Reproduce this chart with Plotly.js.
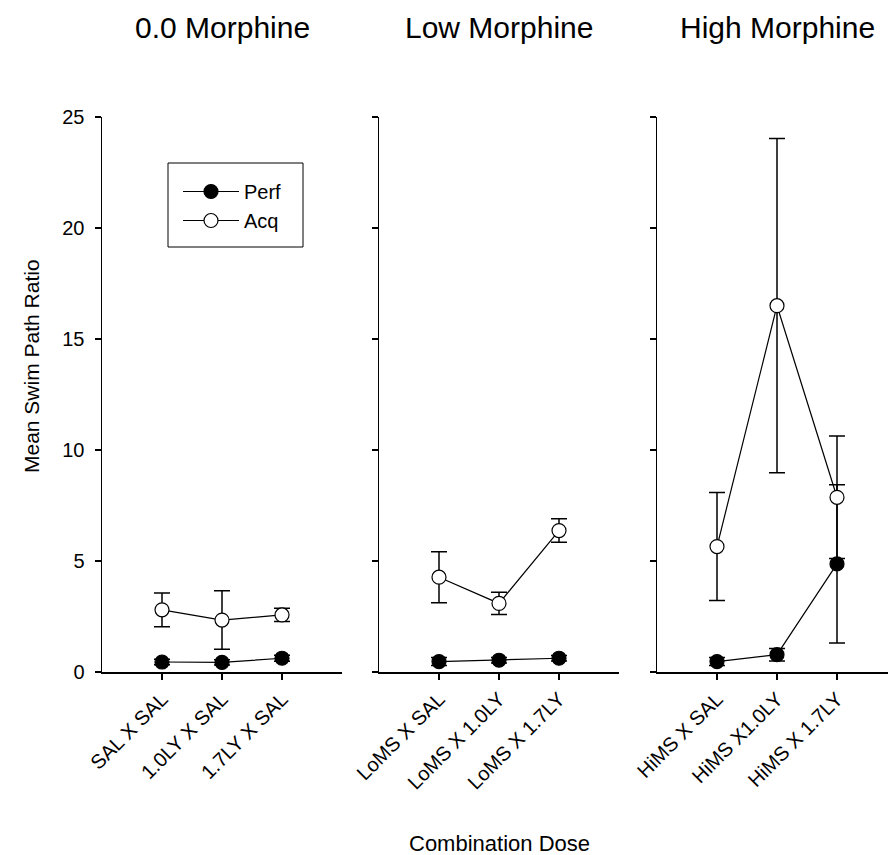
<!DOCTYPE html>
<html><head><meta charset="utf-8">
<script src="https://cdn.plot.ly/plotly-3.0.1.min.js"></script>
<style>html,body{margin:0;padding:0;background:#fff}</style>
</head><body><div id="chart" style="width:888px;height:855px"></div>
<script>
// ---- data ----
const panelTitles = ['0.0 Morphine', 'Low Morphine', 'High Morphine'];
const cats0 = ['SAL X SAL', '1.0LY X SAL', '1.7LY X SAL'];
const catsLow = ['LoMS X SAL', 'LoMS X 1.0LY', 'LoMS X 1.7LY'];
const catsHigh = ['HiMS X SAL', 'HiMS X1.0LY', 'HiMS X 1.7LY'];
const perf0 = [0.45, 0.43, 0.62];
const perf0Err = [0.12, 0.12, 0.14];
const acq0 = [2.80, 2.34, 2.57];
const acq0Err = [0.76, 1.32, 0.30];
const perfLow = [0.47, 0.53, 0.62];
const perfLowErr = [0.18, 0.12, 0.12];
const acqLow = [4.27, 3.09, 6.37];
const acqLowErr = [1.15, 0.50, 0.53];
const perfHigh = [0.47, 0.78, 4.87];
const perfHighErr = [0.18, 0.28, 3.56];
const acqHigh = [5.65, 16.50, 7.87];
const acqHighErr = [2.43, 7.53, 2.76];
const seriesNames = ['Perf', 'Acq'];
const yTicks = [0, 5, 10, 15, 20, 25];

const W = 888, H = 855;
const FONT = 'Liberation Sans, Arial, Helvetica, sans-serif';
const INK = '#000';

function px(x) { return x / W; }
function py(y) { return (H - y) / H; }

const panels = [
  {cats: cats0, perf: perf0, perfErr: perf0Err, acq: acq0, acqErr: acq0Err},
  {cats: catsLow, perf: perfLow, perfErr: perfLowErr, acq: acqLow, acqErr: acqLowErr},
  {cats: catsHigh, perf: perfHigh, perfErr: perfHighErr, acq: acqHigh, acqErr: acqHighErr}
];

const traces = [];
panels.forEach((p, i) => {
  const xa = i === 0 ? 'x' : 'x' + (i + 1);
  const ya = i === 0 ? 'y' : 'y' + (i + 1);
  const errStyle = {type: 'data', visible: true, color: INK, thickness: 1.5, width: 8};
  traces.push({
    type: 'scatter', mode: 'lines+markers', name: seriesNames[0],
    x: p.cats, y: p.perf, xaxis: xa, yaxis: ya,
    error_y: Object.assign({array: p.perfErr}, errStyle),
    line: {color: INK, width: 1.2},
    marker: {symbol: 'circle', size: 14, color: INK, line: {color: INK, width: 1.2}},
    showlegend: i === 0, legendgroup: 'perf', cliponaxis: false
  });
  traces.push({
    type: 'scatter', mode: 'lines+markers', name: seriesNames[1],
    x: p.cats, y: p.acq, xaxis: xa, yaxis: ya,
    error_y: Object.assign({array: p.acqErr}, errStyle),
    line: {color: INK, width: 1.2},
    marker: {symbol: 'circle', size: 14, color: '#fff', line: {color: INK, width: 1.2}},
    showlegend: i === 0, legendgroup: 'acq', cliponaxis: false
  });
});

const xDomains = [[px(102), px(342)], [px(379), px(619)], [px(657), 1]];
const xRanges = [[-1, 3], [-1, 3], [-1, 2.85]];
const yDomain = [py(672), py(117)];

const layout = {
  width: W, height: H,
  margin: {l: 0, r: 0, t: 0, b: 0},
  paper_bgcolor: '#fff', plot_bgcolor: '#fff',
  font: {family: FONT, color: INK, size: 16},
  showlegend: true,
  legend: {
    x: px(178), y: py(172), xanchor: 'left', yanchor: 'top',
    bgcolor: 'rgba(0,0,0,0)', borderwidth: 0,
    font: {family: FONT, size: 20, color: INK},
    tracegroupgap: 0, itemwidth: 56
  },
  shapes: [{
    type: 'rect', xref: 'paper', yref: 'paper',
    x0: px(168), x1: px(303), y0: py(247), y1: py(163),
    line: {color: INK, width: 1}, fillcolor: 'rgba(0,0,0,0)'
  }],
  annotations: [],
};

panels.forEach((p, i) => {
  const suffix = i === 0 ? '' : String(i + 1);
  layout['xaxis' + suffix] = {
    domain: xDomains[i], anchor: 'y' + suffix, type: 'category',
    range: xRanges[i], showgrid: false, zeroline: false,
    showline: true, linecolor: INK, linewidth: 1.5,
    ticks: 'outside', ticklen: 6, tickwidth: 1.5, tickcolor: INK,
    tickangle: -45, tickfont: {family: FONT, size: 20, color: INK},
    fixedrange: true
  };
  layout['yaxis' + suffix] = {
    domain: yDomain, anchor: 'x' + suffix, range: [0, 25],
    tickvals: yTicks, ticktext: yTicks.map(String),
    showticklabels: i === 0,
    showgrid: false, zeroline: false,
    showline: true, linecolor: INK, linewidth: 1.5,
    ticks: 'outside', ticklen: 6, tickwidth: 1.5, tickcolor: INK,
    tickfont: {family: FONT, size: 20, color: INK},
    ticklabelstandoff: 6,
    fixedrange: true
  };
  layout.annotations.push({
    xref: 'paper', yref: 'paper',
    x: (xDomains[i][0] + (i === 2 ? px(897) : xDomains[i][1])) / 2,
    y: py(28), xanchor: 'center', yanchor: 'middle',
    text: panelTitles[i], showarrow: false,
    font: {family: FONT, size: 30, color: INK}
  });
});

layout.annotations.push({
  xref: 'paper', yref: 'paper', x: px(31), y: py(366),
  xanchor: 'center', yanchor: 'middle', textangle: -90,
  text: 'Mean Swim Path Ratio', showarrow: false,
  font: {family: FONT, size: 21, color: INK}
});
layout.annotations.push({
  xref: 'paper', yref: 'paper', x: px(499), y: py(843),
  xanchor: 'center', yanchor: 'middle',
  text: 'Combination Dose', showarrow: false,
  font: {family: FONT, size: 22, color: INK}
});

Plotly.newPlot('chart', traces, layout, {staticPlot: true, displayModeBar: false});
</script>
</body></html>
